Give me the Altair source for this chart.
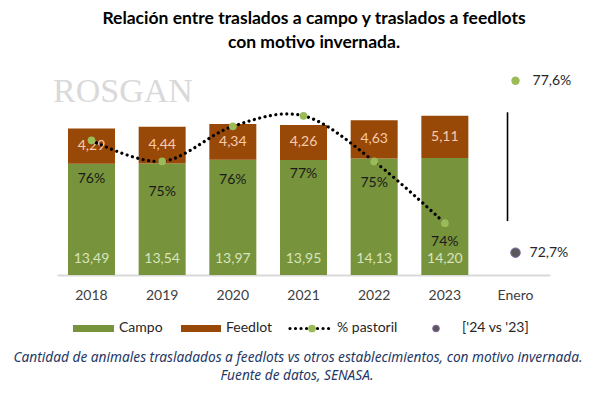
import altair as alt
import pandas as pd

# ---------------- data ----------------
years = ["2018", "2019", "2020", "2021", "2022", "2023"]
categories = years + ["Enero"]
campo = [13.49, 13.54, 13.97, 13.95, 14.13, 14.20]
feedlot = [4.29, 4.44, 4.34, 4.26, 4.63, 5.11]
pct_pastoril = [75.9, 75.3, 76.3, 76.6, 75.3, 73.54]
pct_labels = ["76%", "75%", "76%", "77%", "75%", "74%"]
enero_month = "Enero"
enero_2024 = 77.6
enero_2023 = 72.7
enero_range = [76.7, 73.6]
enero_labels = ["77,6%", "72,7%"]

# ---------------- styles ----------------
FONT = "Lato"
GREEN = "#77933C"
BROWN = "#984807"
POINT_GREEN = "#9BBB59"
DARK = "#595959"
PURPLE = "#8064A2"
NAVY = "#1F3864"
pct_label_dy = [39, 31, 54, 58, 22, 19]

W, H = 493, 215
bar_domain = [0, 26.08]
pct_domain = [72.064, 78.19]

def fmt(v):
    return f"{v:.2f}".replace(".", ",")

long_rows = []
for y, c, f in zip(years, campo, feedlot):
    long_rows.append({"year": y, "serie": "Campo", "value": c, "ord": 0})
    long_rows.append({"year": y, "serie": "Feedlot", "value": f, "ord": 1})
bars_df = pd.DataFrame(long_rows)

wide_df = pd.DataFrame({"year": years, "campo": campo, "feedlot": feedlot})
wide_df["campo_lbl"] = [fmt(v) for v in campo]
wide_df["feedlot_lbl"] = [fmt(v) for v in feedlot]
wide_df["mid"] = wide_df["campo"] + wide_df["feedlot"] / 2

pct_df = pd.DataFrame({"year": years, "pct": pct_pastoril, "lbl": pct_labels})

X = alt.X(
    "year:N",
    scale=alt.Scale(domain=categories, paddingInner=0.33, paddingOuter=0.153),
    sort=categories,
    axis=alt.Axis(
        title=None, labelAngle=0, ticks=False, domainColor="#D9D9D9",
        domainWidth=2, labelFont=FONT, labelFontSize=14, labelColor="#404040",
        labelPadding=13, grid=False,
    ),
)
YB = alt.Scale(domain=bar_domain, nice=False, zero=True)
YP = alt.Scale(domain=pct_domain, nice=False, zero=False)

bars = alt.Chart(bars_df).mark_bar(size=47).encode(
    x=X,
    y=alt.Y("value:Q", stack="zero", scale=YB, axis=None),
    color=alt.Color("serie:N", scale=alt.Scale(domain=["Campo", "Feedlot"], range=[GREEN, BROWN]), legend=None),
    order=alt.Order("ord:Q"),
)
feed_lbl = alt.Chart(wide_df).mark_text(font=FONT, fontSize=14, color="#F8CBAD", baseline="middle").encode(
    x=X, y=alt.Y("mid:Q", scale=YB, axis=None), text="feedlot_lbl:N"
)
campo_lbl = alt.Chart(wide_df).mark_text(font=FONT, fontSize=14, color="#D7E4BD", baseline="middle", dy=-16).encode(
    x=X, y=alt.Y("zero:Q", scale=YB, axis=None), text="campo_lbl:N"
).transform_calculate(zero="0")
bar_group = alt.layer(bars, feed_lbl, campo_lbl)

line = alt.Chart(pct_df).mark_line(
    color="black", strokeDash=[0.01, 5.5], strokeCap="round", strokeWidth=3.2, interpolate="cardinal"
).encode(x=X, y=alt.Y("pct:Q", scale=YP, axis=None))
pts = alt.Chart(pct_df).mark_circle(color=POINT_GREEN, size=60, opacity=1).encode(
    x=X, y=alt.Y("pct:Q", scale=YP, axis=None)
)
lbl_layers = []
for yr, dy in zip(years, pct_label_dy):
    lbl_layers.append(
        alt.Chart(pct_df).transform_filter(alt.datum.year == yr).mark_text(
            font=FONT, fontSize=14, color="#1A1A1A", baseline="middle", dy=dy
        ).encode(x=X, y=alt.Y("pct:Q", scale=YP, axis=None), text="lbl:N")
    )

enero_df = pd.DataFrame({"year": [enero_month], "lo": [enero_range[1]], "hi": [enero_range[0]],
                         "v24": [enero_2024], "v23": [enero_2023],
                         "l24": [enero_labels[0]], "l23": [enero_labels[1]]})
rule = alt.Chart(enero_df).mark_rule(color="black", strokeWidth=1.6, xOffset=-8).encode(
    x=X, y=alt.Y("hi:Q", scale=YP, axis=None), y2="lo:Q"
)
p24 = alt.Chart(enero_df).mark_circle(color=POINT_GREEN, size=70, opacity=1).encode(
    x=X, y=alt.Y("v24:Q", scale=YP, axis=None)
)
p23 = alt.Chart(enero_df).mark_point(filled=True, fill=DARK, stroke=PURPLE, strokeWidth=1, size=90, opacity=1).encode(
    x=X, y=alt.Y("v23:Q", scale=YP, axis=None)
)
t24 = alt.Chart(enero_df).mark_text(font=FONT, fontSize=14, color="#262626", align="left", baseline="middle", dx=17).encode(
    x=X, y=alt.Y("v24:Q", scale=YP, axis=None), text="l24:N"
)
t23 = alt.Chart(enero_df).mark_text(font=FONT, fontSize=14, color="#262626", align="left", baseline="middle", dx=14).encode(
    x=X, y=alt.Y("v23:Q", scale=YP, axis=None), text="l23:N"
)
pct_group = alt.layer(line, pts, *lbl_layers, rule, p24, p23, t24, t23)

# ---------------- decoration: title, watermark, legend, footer ----------------
one = pd.DataFrame({"k": [0]})

def ptext(txt, x, y, **kw):
    return alt.Chart(pd.DataFrame({"t": [txt]})).mark_text(baseline="middle", **kw).encode(
        x=alt.value(x), y=alt.value(y), text="t:N"
    )

title = ptext("Relación entre traslados a campo y traslados a feedlots\ncon motivo invernada.", 257, -41,
              font=FONT, fontSize=17.5, fontWeight="bold", color="black", lineBreak="\n", lineHeight=24, align="center")
logo = ptext("ROSGAN", -4, 32, font="Liberation Serif", fontSize=34, color="#D9D9D9", align="left")

leg_campo = alt.Chart(one).mark_rect(color=GREEN).encode(
    x=alt.value(16), x2=alt.value(57), y=alt.value(265), y2=alt.value(272))
leg_feed = alt.Chart(one).mark_rect(color=BROWN).encode(
    x=alt.value(124), x2=alt.value(164), y=alt.value(265), y2=alt.value(272))
leg_line = alt.Chart(one).mark_rule(color="black", strokeDash=[0.01, 5.5], strokeCap="round", strokeWidth=3.2).encode(
    x=alt.value(233), x2=alt.value(276), y=alt.value(268.5))
leg_pt = alt.Chart(one).mark_circle(color=POINT_GREEN, size=60, opacity=1).encode(x=alt.value(255), y=alt.value(268.5))
leg_pt2 = alt.Chart(one).mark_point(filled=True, fill=DARK, stroke=PURPLE, strokeWidth=1, size=45, opacity=1).encode(
    x=alt.value(379), y=alt.value(268.5))
lt = dict(font=FONT, fontSize=14, color="#262626", align="left")
leg_t1 = ptext("Campo", 62, 268, **lt)
leg_t2 = ptext("Feedlot", 169, 268, **lt)
leg_t3 = ptext("% pastoril", 280, 268, **lt)
leg_t4 = ptext("['24 vs '23]", 405, 268, **lt)

ft = dict(font="Noto Sans", fontSize=13.7, fontStyle="italic", color=NAVY, align="center")
foot1 = ptext("Cantidad de animales trasladados a feedlots vs otros establecimientos, con motivo invernada.", 241, 298, **ft)
foot2 = ptext("Fuente de datos, SENASA.", 240, 316, **ft)

decor = alt.layer(title, logo, leg_campo, leg_feed, leg_line, leg_pt, leg_pt2,
                  leg_t1, leg_t2, leg_t3, leg_t4, foot1, foot2)

chart = alt.layer(bar_group, pct_group, decor).resolve_scale(y="independent").properties(
    width=W, height=H,
    autosize=alt.AutoSizeParams(type="none"),
    padding={"left": 49, "top": 52, "right": 43, "bottom": 111},
    background="white",
).configure_view(stroke=None)

chart.save("out.html", embed_options={"renderer": "svg", "actions": False})
